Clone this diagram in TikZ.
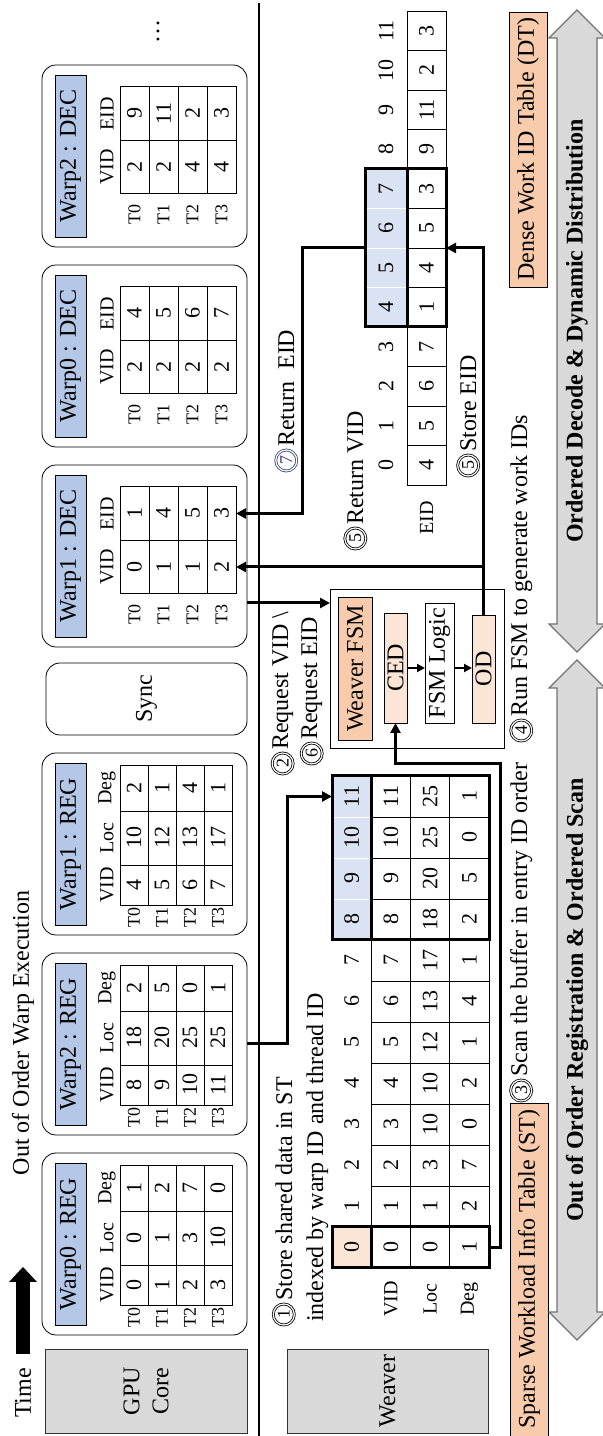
\documentclass[tikz,border=0pt]{standalone}
\usepackage{fontspec}
\setmainfont{Liberation Serif}
\usetikzlibrary{arrows.meta,positioning}

\definecolor{boxgray}{HTML}{D9D9D9}
\definecolor{titleblue}{HTML}{B4C7E7}
\definecolor{tblorange}{HTML}{F8CBAD}
\definecolor{cellpeach}{HTML}{FBE5D6}
\definecolor{cellblue}{HTML}{DAE3F3}
\definecolor{numnavy}{HTML}{34447A}

\begin{document}
\begin{tikzpicture}[x=0.5pt,y=0.5pt,rotate=90,transform shape,
  every node/.style={inner sep=0pt,outer sep=0pt},
  lbl/.style={font=\fontsize{12}{14.5}\selectfont},
  txt/.style={lbl,anchor=base west},
  side/.style={lbl,draw=black!80,fill=boxgray,minimum width=42pt,minimum height=101pt,align=center},
  warp/.style={draw,rounded corners=7pt,minimum width=91pt,minimum height=102.5pt},
  wtitle/.style={lbl,draw,fill=titleblue,minimum width=81pt,minimum height=15.5pt},
  hdr/.style={font=\fontsize{10}{12}\selectfont},
  tlab/.style={font=\fontsize{9}{11}\selectfont},
  cell/.style={draw,font=\fontsize{11}{13}\selectfont,minimum height=14pt},
  stcell/.style={draw,font=\fontsize{11}{13}\selectfont,minimum width=20.5pt,minimum height=19.6pt},
  dtcell/.style={draw,font=\fontsize{11}{13}\selectfont,minimum width=19.75pt,minimum height=19.5pt},
  idx/.style={font=\fontsize{11}{13}\selectfont},
  orbox/.style={lbl,draw,fill=tblorange,minimum height=19pt},
  fsmbox/.style={lbl,draw,minimum height=11.5pt,anchor=west},
  num/.style={circle,draw,double,double distance=0.6pt,line width=0.4pt,minimum size=10.5pt,font=\fontsize{9}{9}\selectfont},
  conn/.style={line width=1.5pt,->},
  conn2/.style={line width=1pt,-{Triangle[length=4pt,width=4pt]}},
  thickln/.style={line width=1.5pt},
  bigarr/.style={draw=black!55,fill=boxgray,line width=0.6pt},
  arrtxt/.style={font=\fontsize{12}{14}\selectfont\bfseries},
  >={Triangle[length=5pt,width=5pt]}]
\useasboundingbox (0,0) rectangle (1436,-603);
\fill[white] (0,0) rectangle (1436,-603);

% left column
\node[lbl] (time) at (43,-23) {Time};
\coordinate (tail) at (82,-23);
\coordinate (tip) at (169,-23);
\draw[line width=7pt,-{Triangle[length=7.5pt,width=14pt,line width=0pt]}] (tail) -- (tip);
\node[side] (gpu) at (45,-146) {GPU\\Core};
\node[side,minimum height=100.5pt] (weaver) at (45,-387.5) {Weaver};
\node[lbl] (ooo) at (403,-23) {Out of Order Warp Execution};

% divider
\coordinate (divl) at (0,-259);
\coordinate (divr) at (1433,-259);
\draw[line width=0.75pt] (divl) -- (divr);

% registration warps
\foreach \wid/\wx/\vids/\locs/\degs in {0/101/{0,1,2,3}/{0,1,3,10}/{1,2,7,0},
    2/301/{8,9,10,11}/{18,20,25,25}/{2,5,0,1}, 1/501/{4,5,6,7}/{10,12,13,17}/{2,1,4,1}}{
  \node[warp,anchor=north west] (reg\wid) at (\wx,-42) {};
  \node[wtitle,anchor=north west] (reg\wid t) at (\wx+10,-55) {Warp\wid\ : REG};
  \node[hdr] (reg\wid hv) at (\wx+50,-107) {VID};
  \node[hdr] (reg\wid hl) at (\wx+97,-107) {Loc};
  \node[hdr] (reg\wid hd) at (\wx+147,-107) {Deg};
  \foreach \val [count=\row from 0] in \vids {
    \node[tlab] (reg\wid r\row) at (\wx+17,-134-28*\row) {T\row};
    \node[cell,minimum width=20pt] (reg\wid v\row) at (\wx+50,-134-28*\row) {\val};}
  \foreach \val [count=\row from 0] in \locs
    \node[cell,minimum width=27pt] (reg\wid l\row) at (\wx+97,-134-28*\row) {\val};
  \foreach \val [count=\row from 0] in \degs
    \node[cell,minimum width=23pt] (reg\wid d\row) at (\wx+147,-134-28*\row) {\val};
}

\node[warp,lbl,minimum width=36pt,minimum height=100.5pt] (sync) at (737,-146.5) {Sync};

% decode warps
\foreach \wid/\wx/\vids/\eids in {1/789/{0,1,1,2}/{1,4,5,3},
    0/989/{2,2,2,2}/{4,5,6,7}, 2/1189/{2,2,4,4}/{9,11,2,3}}{
  \node[warp,anchor=north west] (dec\wid) at (\wx,-42) {};
  \node[wtitle,anchor=north west] (dec\wid t) at (\wx+10,-55) {Warp\wid\ : DEC};
  \node[hdr] (dec\wid hv) at (\wx+80,-107) {VID};
  \node[hdr] (dec\wid he) at (\wx+133,-107) {EID};
  \foreach \val [count=\row from 0] in \vids {
    \node[tlab] (dec\wid r\row) at (\wx+32,-134.5-29*\row) {T\row};
    \node[cell,minimum width=26.75pt,minimum height=14.5pt] (dec\wid v\row) at (\wx+80,-134.5-29*\row) {\val};}
  \foreach \val [count=\row from 0] in \eids
    \node[cell,minimum width=26.75pt,minimum height=14.5pt] (dec\wid e\row) at (\wx+133.5,-134.5-29*\row) {\val};
}
\node[lbl] (more) at (1404,-158) {\dots};

% sparse workload info table
\foreach \vdv/\lcv/\dgv [count=\col from 0] in {0/0/1,1/1/2,2/3/7,3/10/0,4/10/2,5/12/1,
    6/13/4,7/17/1,8/18/2,9/20/5,10/25/0,11/25/1}{
  \node[stcell] (stv\col) at (188.5+41*\col,-390.9) {\vdv};
  \node[stcell] (stl\col) at (188.5+41*\col,-430.1) {\lcv};
  \node[stcell] (std\col) at (188.5+41*\col,-469.4) {\dgv};
}
\node[stcell,fill=cellpeach] (sti0) at (188.5,-351.6) {0};
\foreach \col in {1,...,7}
  \node[idx] (sti\col) at (188.5+41*\col,-351.6) {\col};
\foreach \col in {8,...,11}
  \node[stcell,fill=cellblue,draw=white] (sti\col) at (188.5+41*\col,-351.6) {\col};
\draw[thickln] (sti0.north west) rectangle (std0.south east);
\draw[thickln] (sti0.south west) -- (sti0.south east);
\draw[thickln] (sti8.north west) rectangle (std11.south east);
\draw[thickln] (sti8.south west) -- (sti11.south east);
\node[hdr] (stlv) at (137,-390.9) {VID};
\node[hdr] (stll) at (137,-430.1) {Loc};
\node[hdr] (stld) at (137,-469.4) {Deg};

% dense work id table
\foreach \val [count=\col from 0] in {4,5,6,7,1,4,5,3,9,11,2,3}
  \node[dtcell] (dte\col) at (970.75+39.5*\col,-426.5) {\val};
\foreach \col in {0,1,2,3,8,9,10,11}
  \node[idx] (dti\col) at (970.75+39.5*\col,-386) {\col};
\foreach \col in {4,...,7}
  \node[dtcell,fill=cellblue,draw=white,minimum height=21pt] (dti\col) at (970.75+39.5*\col,-386) {\col};
\draw[thickln] (dti4.north west) rectangle (dte7.south east);
\draw[thickln] (dti4.south west) -- (dti7.south east);
\node[hdr] (dtle) at (918,-426.5) {EID};

\node[orbox,minimum width=166.5pt] (st) at (166.5,-529) {Sparse Workload Info Table (ST)};
\node[orbox,minimum width=137.5pt] (dt) at (1286.5,-528) {Dense Work ID Table (DT)};

% weaver fsm
\node[draw,minimum width=79.5pt,minimum height=87pt] (fsm) at (767.5,-417) {};
\node[orbox,minimum width=71.5pt,minimum height=17pt] (wfsm) at (767.5,-355) {Weaver FSM};
\node[fsmbox,fill=cellpeach,minimum width=55pt] (ced) at (713,-395.5) {CED};
\node[fsmbox,minimum width=60pt,minimum height=14.5pt] (logic) at (713,-439.5) {FSM Logic};
\node[fsmbox,fill=cellpeach,minimum width=54pt] (od) at (713,-483.5) {OD};
\draw[conn2] (ced.south) -- (ced.south |- logic.north);
\draw[conn2] (ced.south |- logic.south) -- (ced.south |- od.north);

% connectors
\draw[conn] (reg2.south) -- ++(0,-40) -| (sti11.north);
\draw[conn] (std0.south) -- ++(0,-11) -- ++(484,0) |- (ced.west);
\coordinate (req) at (833,-247);
\draw[conn] (req) -- (req |- fsm.north);
\draw[conn] (od.east) -| (dte5.south east);
\draw[conn] (dec1v3.south |- od.east) -- (dec1v3.south);
\draw[conn] (dti5.north east) -- ++(0,63) -| (dec1e3.south);

% steps
\node[txt] (s1a) at (135,-292) {Store shared data in ST};
\node[num,left=1.5pt of s1a] (n1) {1};
\node[txt] (s1b) at (114,-323) {indexed by warp ID and thread ID};
\node[txt] (s2) at (686,-288) {Request VID \textbackslash};
\node[num,left=1.5pt of s2] (n2) {2};
\node[txt] (s6) at (696,-317) {Request EID};
\node[num,left=1.5pt of s6] (n6) {6};
\node[txt] (s3) at (359,-527) {Scan the buffer in entry ID order};
\node[num,left=1.5pt of s3] (n3) {3};
\node[txt] (s4) at (719,-527) {Run FSM to generate work IDs};
\node[num,left=1.5pt of s4] (n4) {4};
\node[txt] (s5a) at (911,-363) {Return VID};
\node[num,left=1.5pt of s5a] (n5a) {5};
\node[txt] (s7) at (989,-294) {Return~ EID};
\node[num,draw=numnavy,text=numnavy,left=1.5pt of s7] (n7) {7};
\node[txt] (s5b) at (984,-476) {Store EID};
\node[num,left=1.5pt of s5b] (n5b) {5};

% phases
\draw[bigarr] (96,-577) -- (124,-549) -- (124,-557) -- (748,-557) -- (748,-549) -- (776,-577)
  -- (748,-605) -- (748,-597) -- (124,-597) -- (124,-605) -- cycle;
\node[arrtxt] (ph1) at (436,-577) {Out of Order Registration \& Ordered Scan};
\draw[bigarr] (784,-577) -- (812,-549) -- (812,-557) -- (1398,-557) -- (1398,-549) -- (1426,-577)
  -- (1398,-605) -- (1398,-597) -- (812,-597) -- (812,-605) -- cycle;
\node[arrtxt] (ph2) at (1105,-577) {Ordered Decode \& Dynamic Distribution};
\end{tikzpicture}
\end{document}
